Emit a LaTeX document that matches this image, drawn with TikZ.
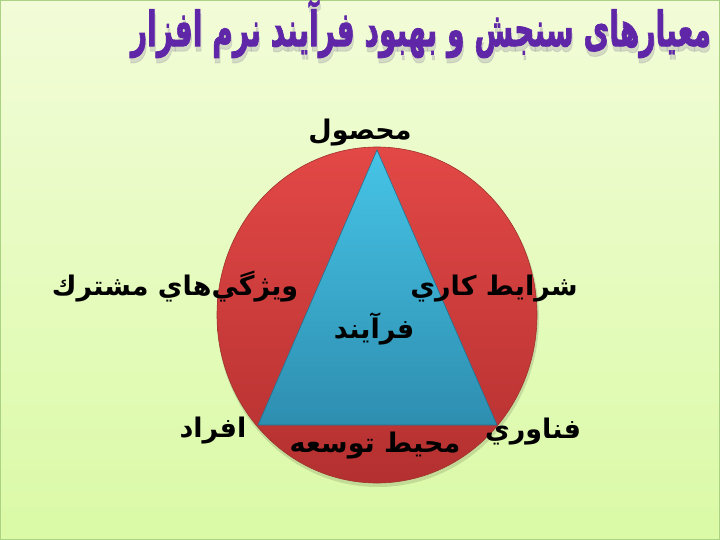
\documentclass[tikz,border=0pt]{standalone}
\usepackage{fontspec}
\usepackage{graphicx}
\TeXXeTstate=1
\newfontfamily\arabicfont[Script=Arabic]{DejaVu Sans}
\newfontfamily\arabicbold[Script=Arabic]{DejaVu Sans Bold}
\newfontfamily\titlefont[Script=Arabic,FakeBold=2]{DejaVu Sans Bold}
\definecolor{bgtop}{RGB}{242,252,216}
\definecolor{bgbot}{RGB}{218,250,166}
\definecolor{bgedge}{RGB}{170,210,130}
\definecolor{redtop}{RGB}{226,72,70}
\definecolor{redbot}{RGB}{180,48,48}
\definecolor{redline}{RGB}{160,50,45}
\definecolor{blutop}{RGB}{70,196,230}
\definecolor{blubot}{RGB}{46,142,176}
\definecolor{bluline}{RGB}{40,110,140}
\definecolor{titlecol}{RGB}{96,38,168}
\definecolor{titleshadow}{RGB}{170,170,170}
\tikzset{
  lbl/.style={font=\arabicbold\fontsize{27}{30}\selectfont, text=black, inner sep=0pt},
}
\begin{document}
\begin{tikzpicture}[x=1pt,y=-1pt]
\useasboundingbox (0,0) rectangle (720,540);
% background
\shade[top color=bgtop, bottom color=bgbot, draw=bgedge, line width=1.2pt] (0.6,0.6) rectangle (719.4,539.4);
% title
\node[text=titleshadow, opacity=0.4, inner sep=0pt] (titleshadow) at (422,34)
  {\resizebox*{580pt}{58pt}{\titlefont\beginR معيارهای سنجش و بهبود فرآيند نرم افزار\endR}};
\node[text=titlecol, inner sep=0pt] (title) at (421,29)
  {\resizebox*{580pt}{58pt}{\titlefont\beginR معيارهای سنجش و بهبود فرآيند نرم افزار\endR}};
% circle shadow
\fill[black, opacity=0.12] (378,318) ellipse [x radius=161, y radius=169];
% circle
\shade[top color=redtop, bottom color=redbot, draw=redline, line width=0.6pt]
  (377,315) ellipse [x radius=160, y radius=168];
% triangle
\coordinate (apex) at (377,150);
\coordinate (bl) at (258,425);
\coordinate (br) at (497,425);
\shade[top color=blutop, bottom color=blubot, draw=bluline, line width=0.6pt]
  (apex) -- (bl) -- (br) -- cycle;
% labels
\node[lbl] (product) at (360,133) {\beginR محصول\endR};
\node[lbl] (common) at (175,287) {\beginR ويژگي^^^^200cهاي مشترك\endR};
\node[lbl] (work) at (494,289) {\beginR شرايط كاري\endR};
\node[lbl] (process) at (374,329) {\beginR فرآيند\endR};
\node[lbl] (people) at (213,431) {\beginR افراد\endR};
\node[lbl] (env) at (375,446) {\beginR محيط توسعه\endR};
\node[lbl] (tech) at (533,432) {\beginR فناوري\endR};
\end{tikzpicture}
\end{document}
